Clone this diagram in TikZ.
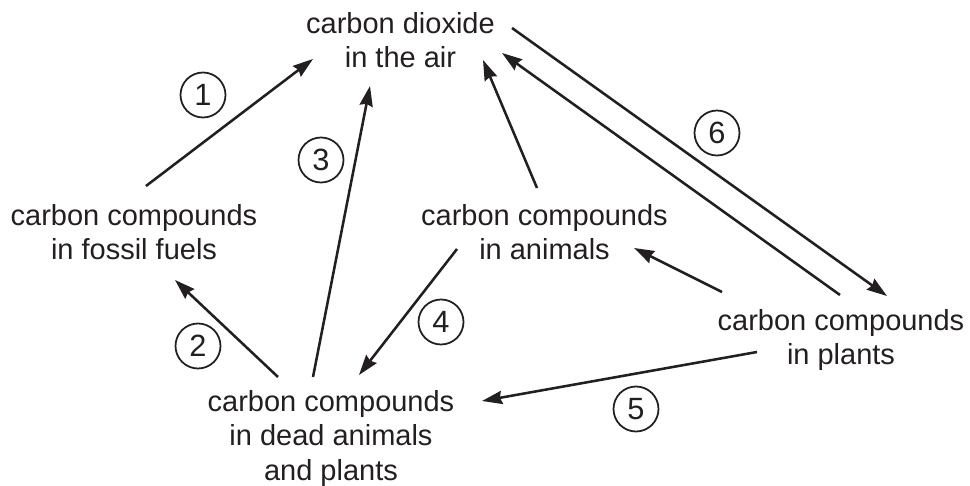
\documentclass[tikz,border=0pt]{standalone}
\usepackage{fontspec}
\setmainfont{Liberation Sans}
\usetikzlibrary{arrows.meta}
\definecolor{ink}{RGB}{35,31,32}

\begin{document}
\begin{tikzpicture}[x=0.02cm, y=-0.02cm, color=ink,
  pool/.style={align=center, inner sep=0pt, anchor=north, font=\fontsize{16.5}{19.6}\selectfont},
  num/.style={draw, circle, line width=1pt, minimum size=0.9cm, inner sep=0pt, font=\fontsize{17.5}{19.6}\selectfont},
  arr/.style={-{Stealth[length=11.5pt, width=7.5pt, inset=1.2pt]}, line width=1.45pt}]
\useasboundingbox (0,0) rectangle (970,486);
\node[pool] (air) at (400.5,12) {carbon dioxide\\in the air};
\node[pool] (fossil) at (134,204) {carbon compounds\\in fossil fuels};
\node[pool] (animals) at (544.5,204) {carbon compounds\\in animals};
\node[pool] (plants) at (841,309) {carbon compounds\\in plants};
\node[pool] (dead) at (331,390) {carbon compounds\\in dead animals\\and plants};
% flows between the stores
\draw[arr] ([shift={(12,-18)}]fossil.north) -- ([shift={(-87.5,47)}]air.north);
\draw[arr] ([shift={(-18,-13)}]dead.north) -- ([shift={(-30.5,74)}]air.north);
\draw[arr] ([shift={(-7.5,-16)}]animals.north) -- ([shift={(82.5,48)}]air.north);
\draw[arr] ([shift={(-1,-14)}]plants.north) -- ([shift={(101.5,41)}]air.north);
\draw[arr] ([shift={(111.5,16)}]air.north) -- ([shift={(46,-13)}]plants.north);
\draw[arr] ([shift={(-119,-17)}]plants.north) -- ([shift={(89.5,44)}]animals.north);
\draw[arr] ([shift={(-87.5,45)}]animals.north) -- ([shift={(28,-15)}]dead.north);
\draw[arr] ([shift={(-53,-13)}]dead.north) -- ([shift={(41,76)}]fossil.north);
\draw[arr] ([shift={(-84,43)}]plants.north) -- ([shift={(151,11)}]dead.north);
% numbered steps
\node[num] (n1) at (203,95) {1};
\node[num] (n2) at (198,346) {2};
\node[num] (n3) at (321,160) {3};
\node[num] (n4) at (441,322) {4};
\node[num] (n5) at (636,409) {5};
\node[num] (n6) at (717,133) {6};
\end{tikzpicture}
\end{document}
